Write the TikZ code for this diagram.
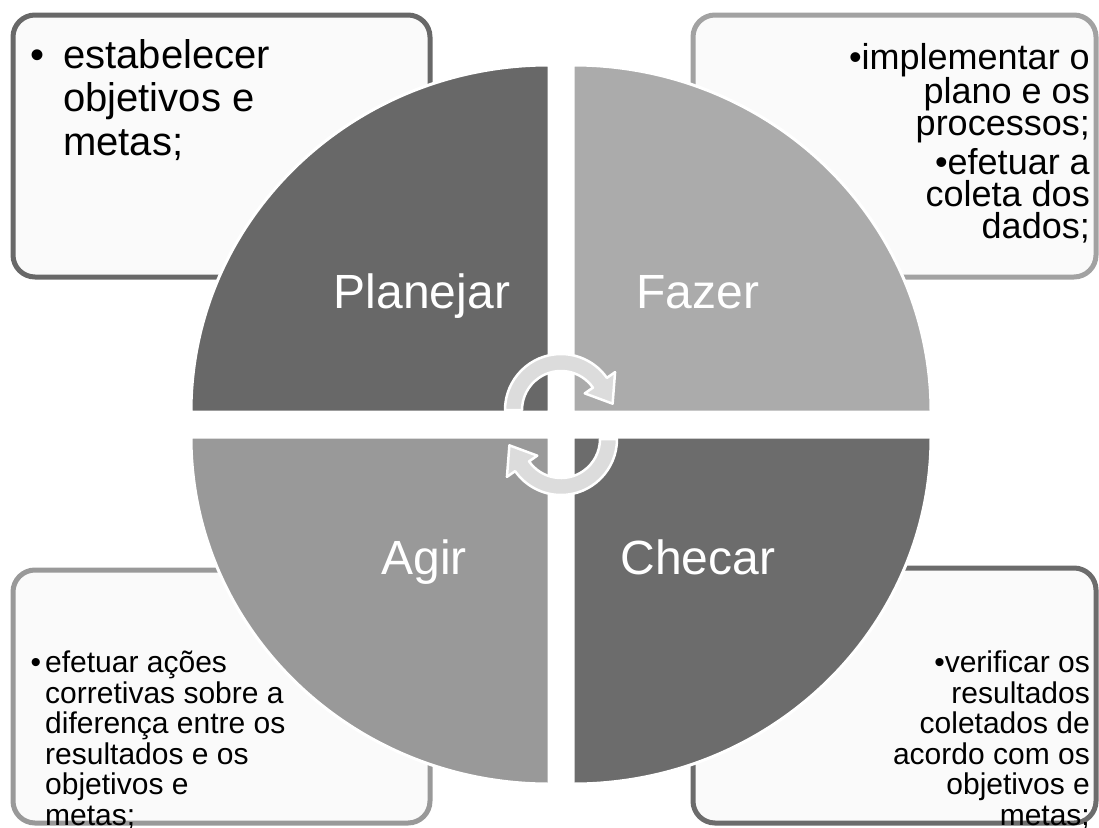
\documentclass[tikz,border=0pt]{standalone}
\usepackage{fontspec}
\setmainfont{Liberation Sans}
\usetikzlibrary{positioning}
\definecolor{planejarfill}{RGB}{104,104,104}
\definecolor{fazerfill}{RGB}{171,171,171}
\definecolor{agirfill}{RGB}{153,153,153}
\definecolor{checarfill}{RGB}{108,108,108}
\definecolor{boxfill}{RGB}{250,250,250}
\definecolor{arrowfill}{RGB}{220,220,220}
\tikzset{
    x=1pt, y=1pt,
    infobox/.style={rectangle, rounded corners=22, line width=5, fill=boxfill, inner sep=0},
    quadrant/.style={draw=white, line width=3},
    phaselabel/.style={text=white, inner sep=0, font=\fontsize{48}{55}\selectfont},
    boxtext/.style={inner sep=0, text=black},
    cyclearrow/.style={fill=arrowfill, draw=white, line width=2.5, line join=round},
}

\begin{document}
\begin{tikzpicture}
\useasboundingbox (0,0) rectangle (1099,-827);

% corner boxes
\node[infobox, draw=planejarfill, minimum width=417, minimum height=262] (boxplan) at (221.5,-146) {};
\node[infobox, draw=fazerfill!95!black, minimum width=403, minimum height=262] (boxfazer) at (894.5,-146) {};
\node[infobox, draw=agirfill, minimum width=417, minimum height=253] (boxagir) at (221.5,-696.5) {};
\node[infobox, draw=checarfill, minimum width=403, minimum height=255] (boxchecar) at (894.5,-695.5) {};

\node[boxtext, font=\fontsize{40}{43.5}\selectfont, anchor=north west, align=left] (txtplan) at (63,-39)
    {\llap{•\hspace{19pt}}estabelecer\\objetivos e\\metas;};
\node[boxtext, font=\fontsize{36}{32}\selectfont, anchor=north east, align=right] (txtfazer) at (1090,-43)
    {•implementar o\\plano e os\\processos;\\[4pt]•efetuar a\\coleta dos\\dados;};
\node[boxtext, font=\fontsize{30}{30.5}\selectfont, anchor=north west, align=left] (txtagir) at (45,-651)
    {\llap{•\hspace{4pt}}efetuar ações\\corretivas sobre a\\diferença entre os\\resultados e os\\objetivos e\\metas;};
\node[boxtext, font=\fontsize{30}{30.5}\selectfont, anchor=north east, align=right] (txtchecar) at (1090,-651)
    {•verificar os\\resultados\\coletados de\\acordo com os\\objetivos e\\metas;};

% the four quadrants
\draw[quadrant, fill=planejarfill] (549,-412) -- ++(-358,0) arc[start angle=180, end angle=90, x radius=358, y radius=347] -- cycle;
\draw[quadrant, fill=fazerfill] (573,-412) -- ++(0,347) arc[start angle=90, end angle=0, x radius=358, y radius=347] -- cycle;
\draw[quadrant, fill=agirfill] (549,-437) -- ++(0,-347) arc[start angle=270, end angle=180, x radius=358, y radius=347] -- cycle;
\draw[quadrant, fill=checarfill] (573,-437) -- ++(358,0) arc[start angle=0, end angle=-90, x radius=358, y radius=347] -- cycle;

\node[phaselabel, anchor=base] (planejar) at (422,-308) {Planejar};
\node[phaselabel, anchor=base] (fazer) at (698,-308) {Fazer};
\node[phaselabel, anchor=base] (agir) at (424,-574) {Agir};
\node[phaselabel, anchor=base] (checar) at (698,-574) {Checar};

% cycle arrows in the middle
\begin{scope}[shift={(561,-410)}]
\draw[cyclearrow] (180:56) arc[start angle=180, end angle=35, radius=56] -- (35:66) -- (7:52)
    -- (35:29) -- (35:39) arc[start angle=35, end angle=180, radius=39] -- cycle;
\end{scope}
\begin{scope}[shift={(561,-439)}, rotate=180]
\draw[cyclearrow] (180:56) arc[start angle=180, end angle=35, radius=56] -- (35:66) -- (7:52)
    -- (35:29) -- (35:39) arc[start angle=35, end angle=180, radius=39] -- cycle;
\end{scope}

\end{tikzpicture}
\end{document}
